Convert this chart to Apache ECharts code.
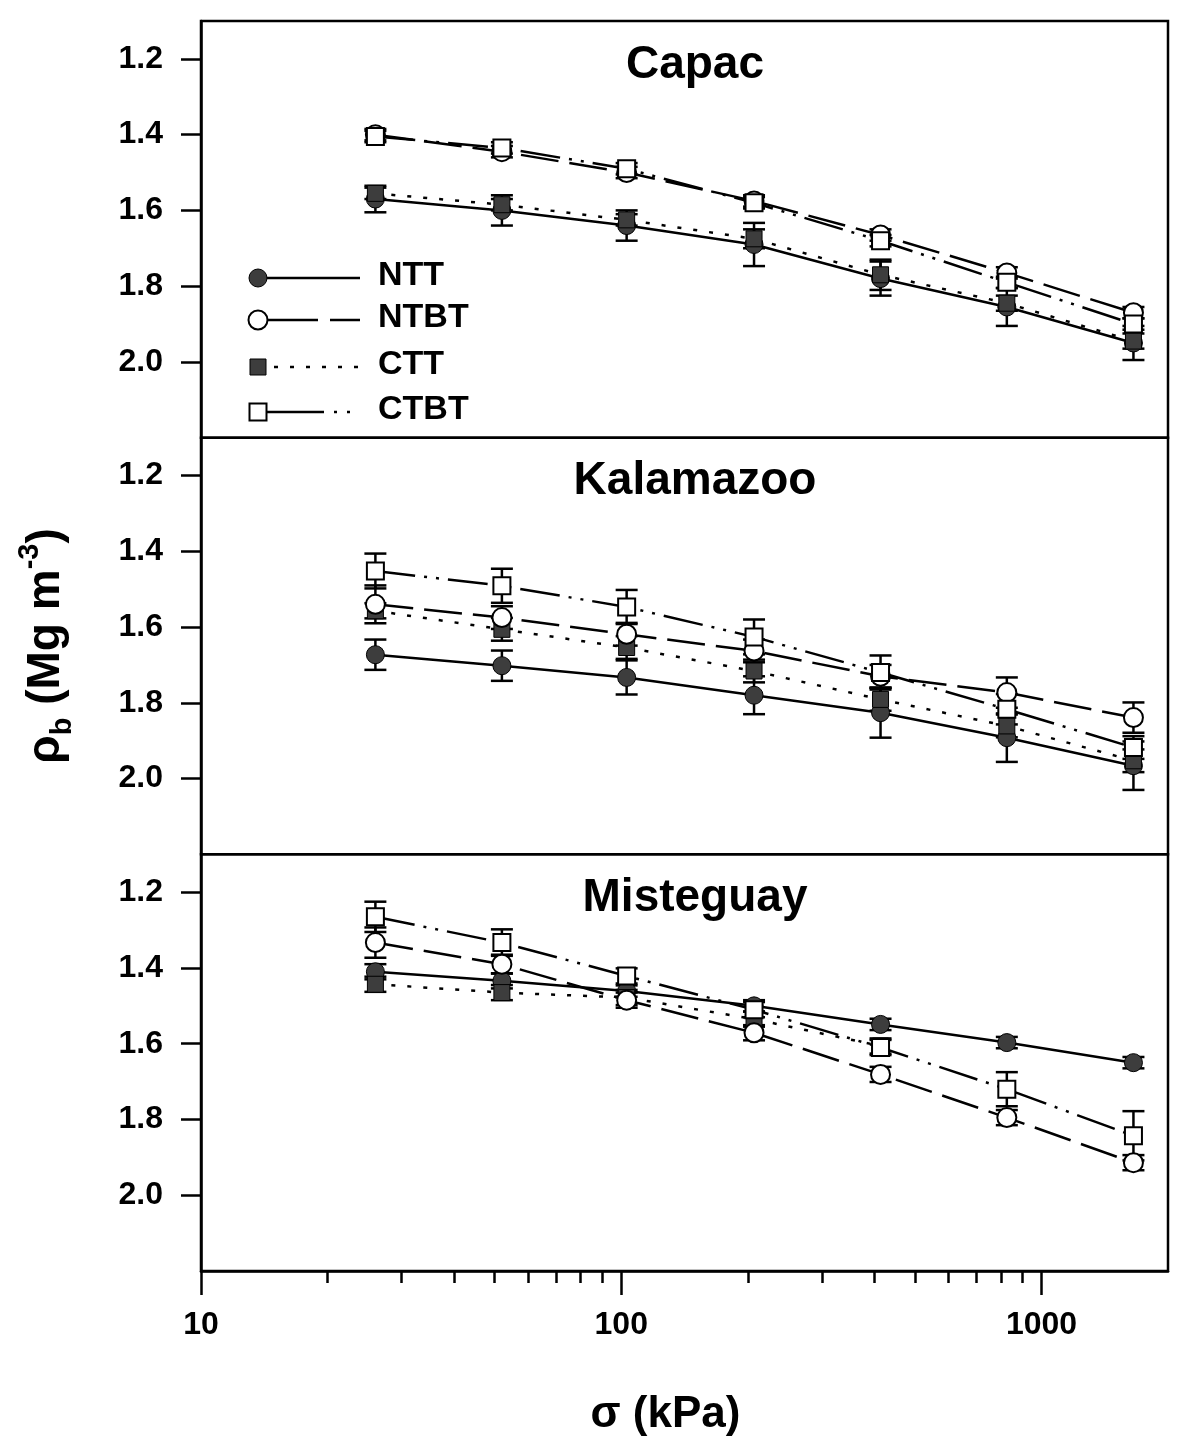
<!DOCTYPE html>
<html>
<head>
<meta charset="utf-8">
<script src="https://cdn.jsdelivr.net/npm/echarts@6/dist/echarts.min.js"></script>
<style>
html,body{margin:0;padding:0;background:#fff;}
#chart{width:1191px;height:1453px;}
</style>
</head>
<body>
<div id="chart"></div>
<script>
// ---------------- data ----------------
const stress = [26, 52, 103, 207, 414, 827, 1655];   // kPa
const seriesNames = ['NTT', 'NTBT', 'CTT', 'CTBT'];
const panelTitles = ['Capac', 'Kalamazoo', 'Misteguay'];
const yTickValues = [1.2, 1.4, 1.6, 1.8, 2.0];
const xMajorTicks = [10, 100, 1000];
const xMinorTicks = [20, 30, 40, 50, 60, 70, 80, 90, 200, 300, 400, 500, 600, 700, 800, 900];

// Capac
const capacNTT  = [1.570, 1.600, 1.640, 1.690, 1.780, 1.855, 1.950];
const capacNTBT = [1.400, 1.445, 1.500, 1.575, 1.665, 1.765, 1.870];
const capacCTT  = [1.555, 1.585, 1.625, 1.675, 1.770, 1.845, 1.945];
const capacCTBT = [1.405, 1.435, 1.490, 1.580, 1.680, 1.790, 1.900];
const capacNTTsd  = [0.035, 0.040, 0.040, 0.057, 0.045, 0.050, 0.045];
const capacNTBTsd = [0.015, 0.015, 0.015, 0.015, 0.015, 0.015, 0.015];
const capacCTTsd  = [0.015, 0.015, 0.015, 0.025, 0.040, 0.020, 0.020];
const capacCTBTsd = [0.015, 0.015, 0.015, 0.015, 0.015, 0.015, 0.015];

// Kalamazoo
const kalNTT  = [1.673, 1.702, 1.733, 1.780, 1.826, 1.892, 1.966];
const kalNTBT = [1.540, 1.575, 1.619, 1.663, 1.730, 1.773, 1.839];
const kalCTT  = [1.557, 1.606, 1.654, 1.716, 1.791, 1.861, 1.953];
const kalCTBT = [1.452, 1.491, 1.547, 1.626, 1.720, 1.817, 1.918];
const kalNTTsd  = [0.040, 0.040, 0.045, 0.050, 0.066, 0.064, 0.064];
const kalNTBTsd = [0.050, 0.030, 0.030, 0.030, 0.030, 0.040, 0.040];
const kalCTTsd  = [0.020, 0.030, 0.030, 0.030, 0.030, 0.030, 0.030];
const kalCTBTsd = [0.046, 0.045, 0.045, 0.046, 0.045, 0.040, 0.030];

// Misteguay
const misNTT  = [1.410, 1.434, 1.461, 1.500, 1.549, 1.597, 1.650];
const misNTBT = [1.333, 1.390, 1.485, 1.571, 1.681, 1.795, 1.914];
const misCTT  = [1.443, 1.465, 1.478, 1.535, 1.606, null, null];
const misCTBT = [1.265, 1.333, 1.421, 1.510, 1.610, 1.720, 1.843];
const misNTTsd  = [0.020, 0.020, 0.015, 0.015, 0.015, 0.015, 0.015];
const misNTBTsd = [0.040, 0.025, 0.020, 0.020, 0.020, 0.020, 0.020];
const misCTTsd  = [0.020, 0.020, 0.020, 0.020, 0.020, null, null];
const misCTBTsd = [0.040, 0.035, 0.020, 0.020, 0.020, 0.045, 0.065];

const panels = [
  {means: [capacNTT, capacNTBT, capacCTT, capacCTBT], sds: [capacNTTsd, capacNTBTsd, capacCTTsd, capacCTBTsd]},
  {means: [kalNTT, kalNTBT, kalCTT, kalCTBT], sds: [kalNTTsd, kalNTBTsd, kalCTTsd, kalCTBTsd]},
  {means: [misNTT, misNTBT, misCTT, misCTBT], sds: [misNTTsd, misNTBTsd, misCTTsd, misCTBTsd]}
];

// ---------------- styles ----------------
const FONT = '"Liberation Sans", Arial, Helvetica, sans-serif';
const FILL = '#3d3d3d';
const styles = {
  NTT:  {symbol: 'circle', size: 18, fill: FILL, dash: 'solid'},
  NTBT: {symbol: 'circle', size: 19, fill: '#fff', dash: [38, 11]},
  CTT:  {symbol: 'rect',   size: 16, fill: FILL, dash: [4, 12]},
  CTBT: {symbol: 'rect',   size: 17, fill: '#fff', dash: [40, 9, 3, 9, 3, 9]}
};
const drawOrder = [0, 2, 1, 3]; // NTT, CTT, NTBT, CTBT (later on top)

const L = 201, W = 967, TOP = 21, PH = 1250 / 3;

const grids = [], xAxes = [], yAxes = [], series = [], titles = [];
for (let p = 0; p < 3; p++) {
  const top = TOP + p * PH;
  grids.push({left: L, width: W, top: top, height: PH, show: true,
    borderColor: '#000', borderWidth: 2.5, backgroundColor: 'transparent'});
  const last = p === 2;
  xAxes.push({type: 'log', logBase: 10, min: 10, max: 2000, gridIndex: p,
    axisLine: {show: last, lineStyle: {color: '#000', width: 2.5}},
    axisTick: {show: last, length: 24, inside: false, customValues: xMajorTicks, lineStyle: {color: '#000', width: 2.5}},
    axisLabel: {show: last, customValues: xMajorTicks, margin: 38, color: '#000',
      fontSize: 32, fontWeight: 'bold', fontFamily: FONT, formatter: v => String(Math.round(v))},
    splitLine: {show: false},
    name: last ? 'σ (kPa)' : '', nameLocation: 'middle', nameGap: 122,
    nameTextStyle: {fontSize: 44, fontWeight: 'bold', fontFamily: FONT, color: '#000', padding: [0, 38, 0, 0]}
  });
  const yax = {type: 'value', inverse: true, min: 1.1, max: 2.2, gridIndex: p,
    axisLine: {show: true, lineStyle: {color: '#000', width: 2.5}},
    axisTick: {show: true, length: 20, customValues: yTickValues, lineStyle: {color: '#000', width: 2.5}},
    axisLabel: {show: true, customValues: yTickValues, margin: 38, color: '#000',
      fontSize: 32, fontWeight: 'bold', fontFamily: FONT, formatter: v => v.toFixed(1)},
    splitLine: {show: false}
  };
  if (p === 1) {
    yax.name = '{r|ρ}{s|b}{r| (Mg m}{p|-3}{r|)}';
    yax.nameLocation = 'middle';
    yax.nameRotate = 90;
    yax.nameGap = 124;
    yax.nameTextStyle = {
      color: '#000', fontFamily: FONT, fontWeight: 'bold', fontSize: 46,
      rich: {
        r: {fontSize: 46, fontWeight: 'bold', fontFamily: FONT, color: '#000', lineHeight: 62, verticalAlign: 'middle'},
        s: {fontSize: 29, fontWeight: 'bold', fontFamily: FONT, color: '#000', lineHeight: 26, verticalAlign: 'bottom'},
        p: {fontSize: 29, fontWeight: 'bold', fontFamily: FONT, color: '#000', lineHeight: 26, verticalAlign: 'top'}
      }
    };
  }
  yAxes.push(yax);
  titles.push({text: panelTitles[p], left: 690, top: top + 16, textAlign: 'center',
    textStyle: {fontSize: 46, fontWeight: 'bold', fontFamily: FONT, color: '#000'}});

  // error bars first (under markers)
  drawOrder.forEach(k => {
    const name = seriesNames[k];
    const m = panels[p].means[k], e = panels[p].sds[k];
    const ebData = [];
    stress.forEach((x, i) => { if (m[i] != null && e[i] != null) ebData.push([x, m[i], e[i]]); });
    series.push({
      type: 'custom', name: name + ' error', xAxisIndex: p, yAxisIndex: p, z: 2,
      data: ebData, silent: true,
      renderItem: function (params, api) {
        const x = api.value(0), y = api.value(1), e = api.value(2);
        const a = api.coord([x, y - e]), b = api.coord([x, y + e]);
        const w = 11, st = {stroke: '#000', lineWidth: 2.5};
        return {type: 'group', children: [
          {type: 'line', shape: {x1: a[0], y1: a[1], x2: b[0], y2: b[1]}, style: st},
          {type: 'line', shape: {x1: a[0] - w, y1: a[1], x2: a[0] + w, y2: a[1]}, style: st},
          {type: 'line', shape: {x1: b[0] - w, y1: b[1], x2: b[0] + w, y2: b[1]}, style: st}
        ]};
      }
    });
  });
  drawOrder.forEach((k, oi) => {
    const name = seriesNames[k], s = styles[name];
    const m = panels[p].means[k];
    series.push({
      type: 'line', name: name, xAxisIndex: p, yAxisIndex: p, z: 3 + oi,
      data: stress.map((x, i) => [x, m[i]]),
      symbol: s.symbol, symbolSize: s.size, showAllSymbol: true,
      lineStyle: {color: '#000', width: 2.5, type: s.dash},
      itemStyle: {color: s.fill, borderColor: '#000', borderWidth: s.fill === '#fff' ? 2 : 1, opacity: 1},
      connectNulls: false, animation: false
    });
  });
}

// minor ticks on bottom x axis
xAxes.push({type: 'log', logBase: 10, min: 10, max: 2000, gridIndex: 2, position: 'bottom',
  axisLine: {show: false},
  axisTick: {show: true, length: 12, customValues: xMinorTicks, lineStyle: {color: '#000', width: 2.5}},
  axisLabel: {show: false}, splitLine: {show: false}});

// legend (top panel), drawn from series styles
const legendRows = [278, 320, 367, 412];
const legendDash = {NTT: null, NTBT: [60, 12, 30, 100], CTT: [4, 12], CTBT: [66, 10, 3, 10, 3, 100]};
const legendGraphics = [];
seriesNames.forEach((name, i) => {
  const s = styles[name], y = legendRows[i];
  legendGraphics.push({type: 'line', shape: {x1: 258, y1: y, x2: 360, y2: y},
    style: {stroke: '#000', lineWidth: 2.5, lineDash: legendDash[name]}, z: 10});
  if (s.symbol === 'circle') {
    legendGraphics.push({type: 'circle', shape: {cx: 258, cy: y, r: s.size / 2},
      style: {fill: s.fill, stroke: '#000', lineWidth: s.fill === '#fff' ? 2 : 1}, z: 11});
  } else {
    legendGraphics.push({type: 'rect', shape: {x: 258 - s.size / 2, y: y - s.size / 2, width: s.size, height: s.size},
      style: {fill: s.fill, stroke: '#000', lineWidth: s.fill === '#fff' ? 2 : 1}, z: 11});
  }
  legendGraphics.push({type: 'text', left: 378, top: y - 19,
    style: {text: name, fontSize: 34, fontWeight: 'bold', fontFamily: FONT, fill: '#000'}, z: 11});
});

const chart = echarts.init(document.getElementById('chart'), null, {renderer: 'canvas'});
chart.setOption({
  animation: false,
  backgroundColor: '#fff',
  title: titles,
  grid: grids,
  xAxis: xAxes,
  yAxis: yAxes,
  series: series,
  graphic: legendGraphics
});
</script>
</body>
</html>
